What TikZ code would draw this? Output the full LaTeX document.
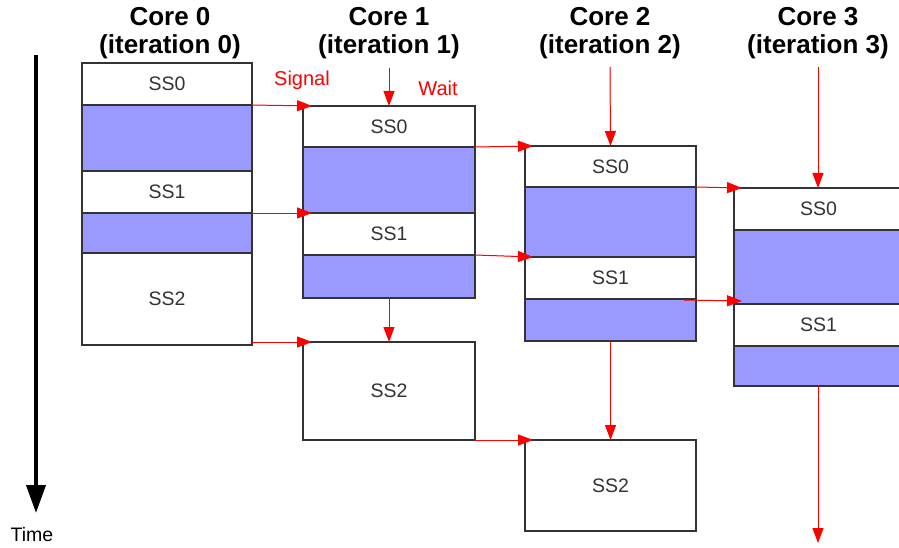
\documentclass[tikz,border=0pt]{standalone}
\usepackage{fontspec}
\setmainfont{Liberation Sans}
\usetikzlibrary{arrows.meta}
\definecolor{segblue}{HTML}{9999FF}
\definecolor{edge}{HTML}{333333}
\definecolor{sigred}{HTML}{FF0000}
\begin{document}
\begin{tikzpicture}[x=1pt,y=-1pt,
  seg/.style={draw=edge, line width=1.1pt, anchor=north west, inner sep=0pt, outer sep=0pt,
    font=\fontsize{19.5}{21}\selectfont, text=edge},
  wseg/.style={seg, fill=white},
  bseg/.style={seg, fill=segblue},
  title/.style={align=center, font=\fontsize{26}{28}\selectfont\bfseries},
  sig/.style={draw=sigred, line width=1pt, -{Triangle[length=15pt,width=11pt]}, fill=sigred},
  lbl/.style={text=sigred, font=\fontsize{20}{22}\selectfont}
]
\useasboundingbox (0,0) rectangle (899,548);
\clip (0,0) rectangle (899,548);
\fill[white] (0,0) rectangle (899,548);

% titles
\node[title] (t0) at (170,33) {Core 0\\(iteration 0)};
\node[title] (t1) at (389,33) {Core 1\\(iteration 1)};
\node[title] (t2) at (610,33) {Core 2\\(iteration 2)};
\node[title] (t3) at (818,33) {Core 3\\(iteration 3)};

% Core 0
\node[wseg, minimum width=170pt, minimum height=42pt] (c0s0) at (82,63) {SS0};
\node[bseg, minimum width=170pt, minimum height=66pt] (c0b0) at (82,105) {};
\node[wseg, minimum width=170pt, minimum height=42pt] (c0s1) at (82,171) {SS1};
\node[bseg, minimum width=170pt, minimum height=40pt] (c0b1) at (82,213) {};
\node[wseg, minimum width=170pt, minimum height=92pt] (c0s2) at (82,253) {SS2};

% Core 1
\node[wseg, minimum width=172pt, minimum height=41pt] (c1s0) at (303,106) {SS0};
\node[bseg, minimum width=172pt, minimum height=66pt] (c1b0) at (303,147) {};
\node[wseg, minimum width=172pt, minimum height=42pt] (c1s1) at (303,213) {SS1};
\node[bseg, minimum width=172pt, minimum height=43pt] (c1b1) at (303,255) {};
\node[wseg, minimum width=172pt, minimum height=98pt] (c1s2) at (303,342) {SS2};

% Core 2
\node[wseg, minimum width=171pt, minimum height=41pt] (c2s0) at (525,146) {SS0};
\node[bseg, minimum width=171pt, minimum height=70pt] (c2b0) at (525,187) {};
\node[wseg, minimum width=171pt, minimum height=42pt] (c2s1) at (525,257) {SS1};
\node[bseg, minimum width=171pt, minimum height=42pt] (c2b1) at (525,299) {};
\node[wseg, minimum width=171pt, minimum height=91pt] (c2s2) at (525,440) {SS2};

% Core 3
\node[wseg, minimum width=169pt, minimum height=42pt] (c3s0) at (734,188) {SS0};
\node[bseg, minimum width=169pt, minimum height=74pt] (c3b0) at (734,230) {};
\node[wseg, minimum width=169pt, minimum height=42pt] (c3s1) at (734,304) {SS1};
\node[bseg, minimum width=169pt, minimum height=40pt] (c3b1) at (734,346) {};

% free ends
\coordinate (w1) at (389,68);
\coordinate (w2) at (610,67);
\coordinate (w3) at (818,67);
\coordinate (e3) at (818,543);
\coordinate (tA) at (36,55);
\coordinate (tB) at (36,513);

% signals
\draw[sig] (c0s0.south east) -- ([xshift=9pt]c1s0.north west);
\draw[sig] (c0s1.south east) -- ([xshift=9pt]c1s1.north west);
\draw[sig] ([yshift=3pt]c0s2.south east) -- ([xshift=9pt]c1s2.north west);
\draw[sig] (c1s0.south east) -- ([xshift=8pt]c2s0.north west);
\draw[sig] (c1s1.south east) -- ([xshift=8pt]c2s1.north west);
\draw[sig] (c1s2.south east) -- ([xshift=8pt]c2s2.north west);
\draw[sig] (c2s0.south east) -- ([xshift=8pt]c3s0.north west);
\draw[sig] ([xshift=-12pt,yshift=-1pt]c2s1.south east) -- ([xshift=8pt,yshift=3pt]c3s1.north west);

% waits
\draw[sig] (w1) -- (c1s0.north);
\draw[sig] (w2) -- (c2s0.north);
\draw[sig] (w3) -- (w3 |- c3s0.north);
\draw[sig] (c1b1.south) -- (c1s2.north);
\draw[sig] (c2b1.south) -- (c2s2.north);
\draw[sig] (w3 |- c3b1.south) -- (e3);

% labels
\node[lbl] (lsig) at (302,80) {Signal};
\node[lbl] (lwait) at (438,88) {Wait};

% time
\draw[line width=4pt, -{Triangle[length=28pt,width=19pt]}] (tA) -- (tB);
\node[font=\fontsize{19.5}{21}\selectfont] (time) at (32,535) {Time};
\end{tikzpicture}
\end{document}
